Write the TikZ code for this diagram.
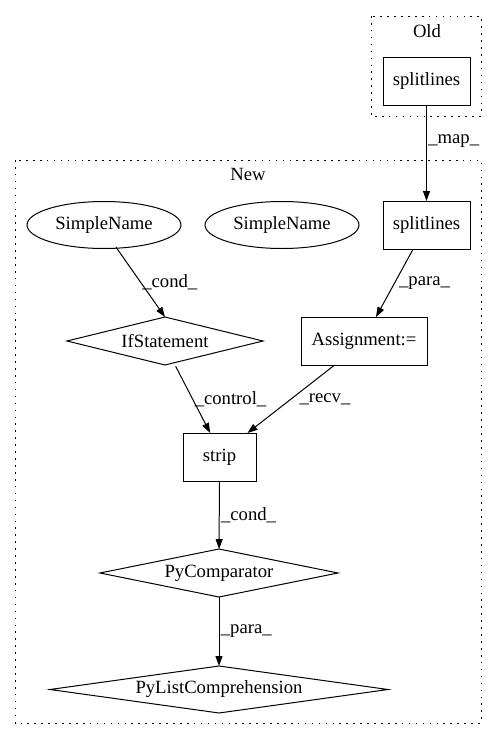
\documentclass[tikz,border=0pt]{standalone}
\usepackage{fontspec}
\setmainfont{Liberation Serif}
\usetikzlibrary{%
        arrows.meta,
        shapes.geometric
    }
\tikzset{%
    clusterbox/.style={draw, line width=0.75pt, dash pattern=on 1.2pt off 4pt},
    stmtbox/.style={draw, rectangle, line width=0.75pt, inner sep=0pt, outer sep=0pt,
        minimum height=36pt},
    namenode/.style={draw, ellipse, line width=0.75pt, inner sep=0pt, outer sep=0pt,
        minimum width=115.5pt, minimum height=35.25pt},
    condnode/.style={draw, diamond, line width=0.75pt, inner sep=0pt, outer sep=0pt,
        minimum height=36pt},
    flow/.style={-{Triangle[length=7.5pt, width=5.25pt]}, line width=0.75pt},
    flowlabel/.style={right, inner sep=1pt}
}

\begin{document}
\begin{tikzpicture}[x=0.75pt, y=-0.75pt, font=\fontsize{14}{16}\selectfont]

    \useasboundingbox (0, 0) rectangle (497, 740);

    % Old cluster
    \draw[clusterbox] (371, 16) rectangle (481, 116);
    \node (oldlabel) at (427, 31) {Old};
    \node[stmtbox, minimum width=65.25pt] (oldsplit) at (426.5, 81) {splitlines};

    % New cluster
    \draw[clusterbox] (15, 160) rectangle (481, 723);
    \node (newlabel) at (248, 174) {New};

    \node[namenode] (name1) at (104, 225) {SimpleName};
    \node[namenode] (name2) at (282, 225) {SimpleName};
    \node[stmtbox, minimum width=65.25pt] (newsplit) at (426.5, 225) {splitlines};

    \node[condnode, aspect=4, minimum width=147pt] (ifstmt) at (165, 341) {IfStatement};
    \node[stmtbox, minimum width=94.5pt] (assign) at (364, 341) {Assignment:=};

    \node[stmtbox, minimum width=54.75pt] (strip) at (219.5, 457) {strip};

    \node[condnode, aspect=5, minimum width=178.5pt] (pycomp) at (219, 573) {PyComparator};
    \node[condnode, aspect=7, minimum width=253.5pt, minimum height=35.25pt] (pylist)
        at (219, 689.5) {PyListComprehension};

    % Connecting up
    \draw[flow] (oldsplit) -- (newsplit)
        node[flowlabel, pos=0.38] {\_map\_};

    \draw[flow] ([xshift=9pt, yshift=1pt] name1.south) -- (ifstmt.north)
        node[flowlabel, midway] {\_cond\_};

    \draw[flow] ([xshift=-10pt] newsplit.south) -- ([xshift=9pt] assign.north)
        node[flowlabel, midway, xshift=2pt] {\_para\_};

    \draw[flow] ([xshift=8pt, yshift=-1pt] ifstmt.south) -- ([xshift=-7pt] strip.north)
        node[flowlabel, midway] {\_control\_};

    \draw[flow] ([xshift=-22pt] assign.south) -- ([xshift=21pt] strip.north)
        node[flowlabel, midway, xshift=5pt] {\_recv\_};

    \draw[flow] (strip) -- (pycomp)
        node[flowlabel, midway] {\_cond\_};

    \draw[flow] (pycomp) -- (pylist)
        node[flowlabel, midway] {\_para\_};

\end{tikzpicture}
\end{document}
